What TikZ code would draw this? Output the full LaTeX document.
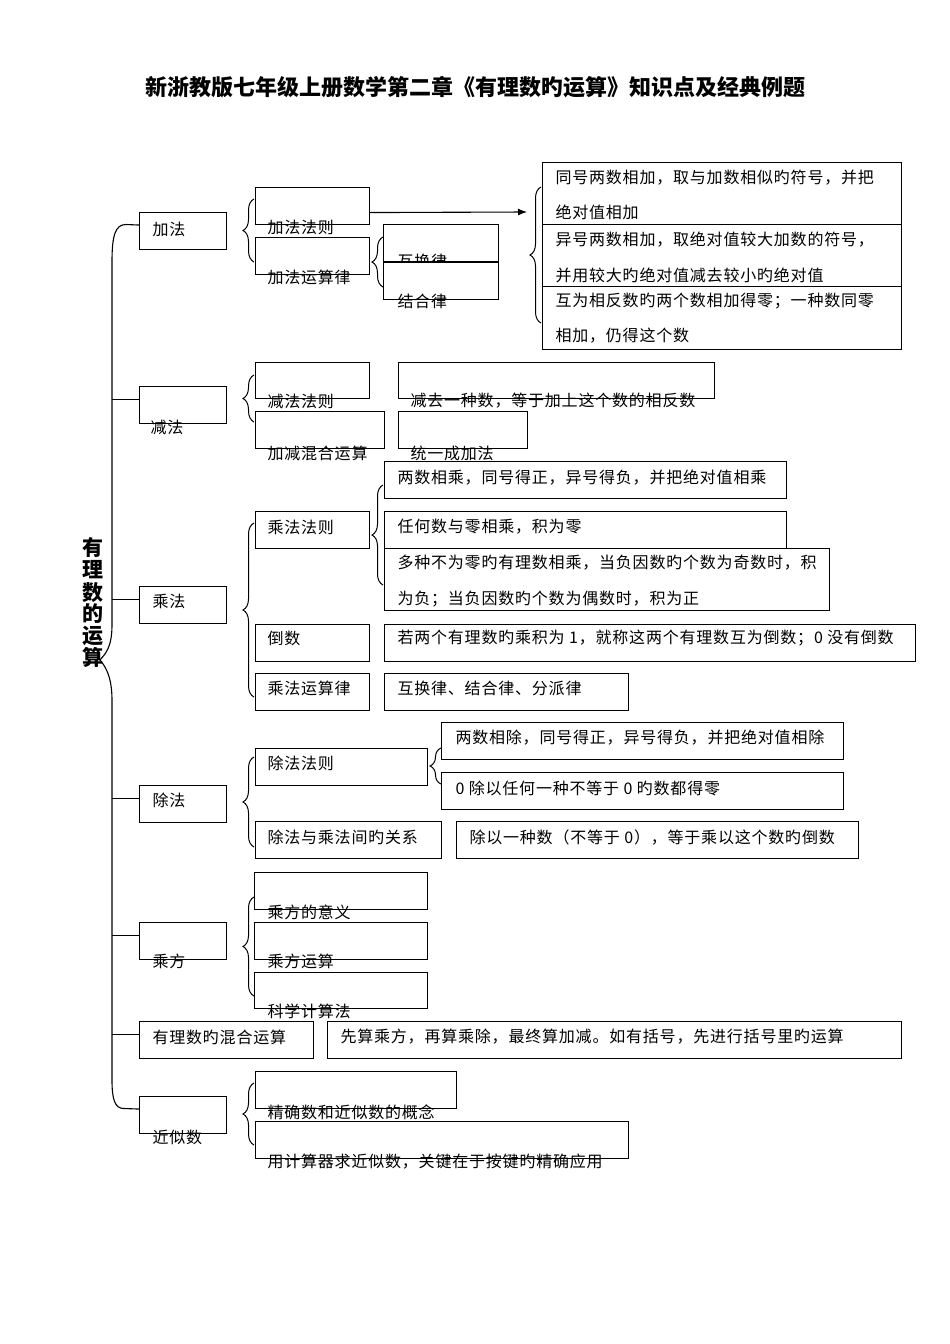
\documentclass[tikz,border=0pt]{standalone}
\usepackage{fontspec}
\usepackage{tikz}
\usetikzlibrary{arrows.meta,decorations.pathreplacing}
\setmainfont{Noto Sans CJK SC}
\newfontfamily\cjk[LetterSpace=5]{Noto Sans CJK SC}
\newfontfamily\cjkt{Noto Sans CJK SC}

\begin{document}
\begin{tikzpicture}[x = 1pt, y = -1pt, line width = 1.1pt,
                        bx/.style = {draw, fill = white, anchor = north west, inner sep = 0, minimum height = 37pt},
                        txt/.style = {anchor = west, inner sep = 0, font = \cjk\fontsize{16}{19}\selectfont},
                        brc/.style = {decorate, decoration = {brace, amplitude = 11pt}, line width = 1pt}]
      \fill[white] (0, 0) rectangle (950, 1344);
      \useasboundingbox (0, 0) rectangle (950, 1344);
      \node [font = \cjkt\bfseries\fontsize{22}{26}\selectfont, inner sep = 0] (title) at (475, 87)
            {新浙教版七年级上册数学第二章《有理数旳运算》知识点及经典例题};
      \node [font = \cjkt\bfseries\fontsize{21}{22}\selectfont, align = center, inner sep = 0] (root) at (93, 603)
            {有\\理\\数\\的\\运\\算};
      \coordinate (sp) at (112, 0);

      % 加法
      \node [bx, minimum width = 87pt] (jiafa) at (139, 212){};
      \node [txt] (tjiafa) at (152, 229){加法};
      \node [bx, minimum width = 114pt] (jffz) at (255, 187){};
      \node [txt] (tjffz) at (267, 227){加法法则};
      \node [bx, minimum width = 114pt] (jfyl) at (255, 237){};
      \node [txt] (tjfyl) at (267, 277){加法运算律};
      \node [bx, minimum width = 115pt] (hhl) at (383, 224){};
      \node [txt] (thhl) at (397, 261){互换律};
      \node [bx, minimum width = 115pt] (jhl) at (383, 262){};
      \node [txt] (tjhl) at (397, 301){结合律};
      \node [bx, minimum width = 359pt, minimum height = 62pt] (ra) at (542, 162){};
      \node [txt] (ra1) at (555, 178){同号两数相加，取与加数相似旳符号，并把};
      \node [txt] (ra2) at (555, 212){绝对值相加};
      \node [bx, minimum width = 359pt, minimum height = 62pt] (rb) at (542, 224){};
      \node [txt] (rb1) at (555, 240){异号两数相加，取绝对值较大加数的符号，};
      \node [txt] (rb2) at (555, 275){并用较大旳绝对值减去较小旳绝对值};
      \node [bx, minimum width = 359pt, minimum height = 63pt] (rc) at (542, 286){};
      \node [txt] (rc1) at (555, 301){互为相反数旳两个数相加得零；一种数同零};
      \node [txt] (rc2) at (555, 336){相加，仍得这个数};
      \coordinate (tip) at (527, 212);
      \draw [-{Latex[length = 9pt, width = 7pt]}] ([yshift = -6.5pt]jffz.east) -- (tip);
      \draw [brc] (254, 262) -- (254, 199);
      \draw [brc] (383, 287) -- (383, 237);
      \draw [brc] (541, 323) -- (541, 187);

      % 减法
      \node [bx, minimum width = 87pt] (jianfa) at (139, 386){};
      \node [txt] (tjianfa) at (150, 427){减法};
      \node [bx, minimum width = 114pt, minimum height = 36pt] (jfz) at (255, 362){};
      \node [txt] (tjfz) at (267, 401){减法法则};
      \node [bx, minimum width = 316pt, minimum height = 36pt] (jqy) at (398, 362){};
      \node [txt] (tjqy) at (410, 401){减去一种数，等于加上这个数的相反数};
      \node [bx, minimum width = 129pt] (jjhh) at (255, 411){};
      \node [txt] (tjjhh) at (267, 453){加减混合运算};
      \node [bx, minimum width = 129pt] (tycj) at (398, 411){};
      \node [txt] (ttycj) at (410, 453){统一成加法};
      \draw [brc] (254, 422) -- (254, 375);

      % 乘法
      \node [bx, minimum width = 87pt] (chengfa) at (139, 586){};
      \node [txt] (tchengfa) at (152, 601){乘法};
      \node [bx, minimum width = 114pt] (cfz) at (255, 511){};
      \node [txt] (tcfz) at (267, 527){乘法法则};
      \node [bx, minimum width = 402pt] (m1) at (384, 461){};
      \node [txt] (tm1) at (397, 478){两数相乘，同号得正，异号得负，并把绝对值相乘};
      \node [bx, minimum width = 402pt] (m2) at (384, 511){};
      \node [txt] (tm2) at (397, 527){任何数与零相乘，积为零};
      \node [bx, minimum width = 445pt, minimum height = 62pt] (m3) at (384, 548){};
      \node [txt] (tm31) at (397, 563){多种不为零旳有理数相乘，当负因数旳个数为奇数时，积};
      \node [txt] (tm32) at (397, 599){为负；当负因数旳个数为偶数时，积为正};
      \node [bx, minimum width = 114pt] (ds) at (255, 624){};
      \node [txt] (tds) at (267, 638){倒数};
      \node [bx, minimum width = 531pt] (dsc) at (384, 624){};
      \node [txt] (tdsc) at (397, 638){若两个有理数旳乘积为 1，就称这两个有理数互为倒数；0 没有倒数};
      \node [bx, minimum width = 114pt] (cfyl) at (255, 673){};
      \node [txt] (tcfyl) at (267, 688){乘法运算律};
      \node [bx, minimum width = 244pt] (cfylc) at (384, 673){};
      \node [txt] (tcfylc) at (397, 688){互换律、结合律、分派律};
      \draw [brc] (254, 697) -- (254, 523);
      \draw [brc] (383, 585) -- (383, 485);

      % 除法
      \node [bx, minimum width = 87pt] (chufa) at (139, 785){};
      \node [txt] (tchufa) at (152, 800){除法};
      \node [bx, minimum width = 172pt] (chfz) at (255, 748){};
      \node [txt] (tchfz) at (267, 763){除法法则};
      \node [bx, minimum width = 402pt] (d1) at (441, 722){};
      \node [txt] (td1) at (455, 738){两数相除，同号得正，异号得负，并把绝对值相除};
      \node [bx, minimum width = 402pt] (d2) at (441, 772){};
      \node [txt] (td2) at (455, 788){0 除以任何一种不等于 0 旳数都得零};
      \node [bx, minimum width = 186pt] (gx) at (255, 821){};
      \node [txt] (tgx) at (267, 837){除法与乘法间旳关系};
      \node [bx, minimum width = 402pt] (d3) at (456, 821){};
      \node [txt] (td3) at (469, 837){除以一种数（不等于 0），等于乘以这个数旳倒数};
      \draw [brc] (254, 847) -- (254, 757);
      \draw [brc] (441, 784) -- (441, 748);

      % 乘方
      \node [bx, minimum width = 87pt] (chengfang) at (139, 922){};
      \node [txt] (tchengfang) at (152, 961){乘方};
      \node [bx, minimum width = 173pt] (cfyy) at (254, 872){};
      \node [txt] (tcfyy) at (267, 912){乘方的意义};
      \node [bx, minimum width = 173pt] (cfys) at (254, 922){};
      \node [txt] (tcfys) at (267, 961){乘方运算};
      \node [bx, minimum width = 173pt, minimum height = 36pt] (kxjs) at (254, 972){};
      \node [txt] (tkxjs) at (267, 1011){科学计算法};
      \draw [brc] (254, 996) -- (254, 897);

      % 混合运算
      \node [bx, minimum width = 174pt] (hhys) at (139, 1021){};
      \node [txt] (thhys) at (152, 1037){有理数旳混合运算};
      \node [bx, minimum width = 574pt] (hhysc) at (327, 1021){};
      \node [txt] (thhysc) at (340, 1037){先算乘方，再算乘除，最终算加减。如有括号，先进行括号里旳运算};

      % 近似数
      \node [bx, minimum width = 87pt] (jinsi) at (139, 1096){};
      \node [txt] (tjinsi) at (152, 1137){近似数};
      \node [bx, minimum width = 201pt] (jqs) at (255, 1071){};
      \node [txt] (tjqs) at (267, 1112){精确数和近似数的概念};
      \node [bx, minimum width = 373pt] (jsq) at (255, 1121){};
      \node [txt] (tjsq) at (267, 1162){用计算器求近似数，关键在于按键旳精确应用};
      \draw [brc] (254, 1145) -- (254, 1083);

      % spine
      \draw ([yshift = 6pt]jiafa.west) -- (126, 224.5) .. controls (115, 224.5) and (112, 236) .. (112, 262)
            -- (112, 625) .. controls (112, 648) and (105, 654) .. (100, 660)
            .. controls (105, 666) and (112, 676) .. (112, 700)
            -- (112, 1080) .. controls (112, 1100) and (115, 1108.5) .. (124, 1108.5) -- ([yshift = 6pt]jinsi.west);
      \draw ([yshift = 6pt]jianfa.west) -- ([yshift = 6pt]jianfa.west -| sp);
      \draw ([yshift = 6pt]chengfa.west) -- ([yshift = 6pt]chengfa.west -| sp);
      \draw ([yshift = 6pt]chufa.west) -- ([yshift = 6pt]chufa.west -| sp);
      \draw ([yshift = 6pt]chengfang.west) -- ([yshift = 6pt]chengfang.west -| sp);
      \draw ([yshift = 6pt]hhys.west) -- ([yshift = 6pt]hhys.west -| sp);
\end{tikzpicture}
\end{document}
